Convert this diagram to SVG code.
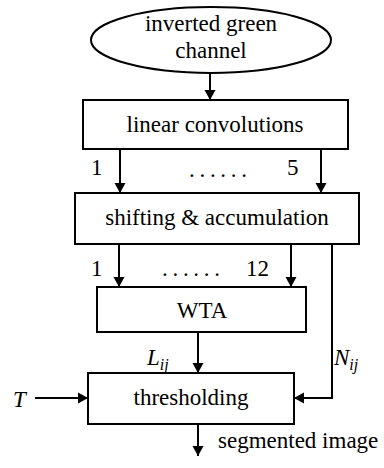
<svg xmlns="http://www.w3.org/2000/svg" width="384" height="468" viewBox="0 0 384 468" font-family="'Liberation Serif', 'DejaVu Serif', serif">
<style>
.s{fill:#fff;stroke:#000;stroke-width:2}
.l{fill:none;stroke:#000;stroke-width:2}
text{font-family:"Liberation Serif","DejaVu Serif",serif;font-size:23px;fill:#000}
.i{font-style:italic}
.sub{font-size:16px;font-style:italic}
</style>
<defs>
<marker id="a" markerWidth="10" markerHeight="14" refX="10" refY="7" orient="auto" markerUnits="userSpaceOnUse">
<path d="M0,1.5 L10,7 L0,12.5 Z" fill="#000"/>
</marker>
</defs>
<rect width="384" height="468" fill="#fff"/>
<g id="connectors">
<line class="l" x1="210" y1="73" x2="210" y2="100" marker-end="url(#a)"/>
<line class="l" x1="120" y1="149" x2="120" y2="193" marker-end="url(#a)"/>
<line class="l" x1="321" y1="149" x2="321" y2="193" marker-end="url(#a)"/>
<line class="l" x1="119" y1="244" x2="119" y2="287" marker-end="url(#a)"/>
<line class="l" x1="291" y1="244" x2="291" y2="287" marker-end="url(#a)"/>
<polyline class="l" points="332,244 332,398 294,398" marker-end="url(#a)"/>
<line class="l" x1="198" y1="332" x2="198" y2="373" marker-end="url(#a)"/>
<line class="l" x1="35" y1="398" x2="88" y2="398" marker-end="url(#a)"/>
<line class="l" x1="198" y1="424" x2="198" y2="456" marker-end="url(#a)"/>
<text x="91" y="175">1</text>
<text x="287" y="175">5</text>
<text x="189" y="177" textLength="58" lengthAdjust="spacing">......</text>
<text x="91" y="276">1</text>
<text x="162" y="276" textLength="58" lengthAdjust="spacing">......</text>
<text x="246" y="276">12</text>
<text x="147" y="365" class="i">L<tspan class="sub" dy="5">ij</tspan></text>
<text x="334" y="365" class="i">N<tspan class="sub" dy="5">ij</tspan></text>
<text x="13" y="407" class="i">T</text>
<text x="218" y="448">segmented image</text>
</g>
<g id="input">
<ellipse class="s" cx="211" cy="40" rx="120" ry="33"/>
<text x="211" y="31" text-anchor="middle">inverted green</text>
<text x="211" y="58" text-anchor="middle">channel</text>
</g>
<g id="linear">
<rect class="s" x="83" y="100" width="265" height="49"/>
<text x="215" y="132" text-anchor="middle">linear convolutions</text>
</g>
<g id="shifting">
<rect class="s" x="75" y="193" width="284" height="51"/>
<text x="217" y="225" text-anchor="middle">shifting &amp; accumulation</text>
</g>
<g id="wta">
<rect class="s" x="97" y="287" width="209" height="45"/>
<text x="202" y="318" text-anchor="middle">WTA</text>
</g>
<g id="thresholding">
<rect class="s" x="88" y="373" width="206" height="51"/>
<text x="191" y="405" text-anchor="middle">thresholding</text>
</g>
</svg>
